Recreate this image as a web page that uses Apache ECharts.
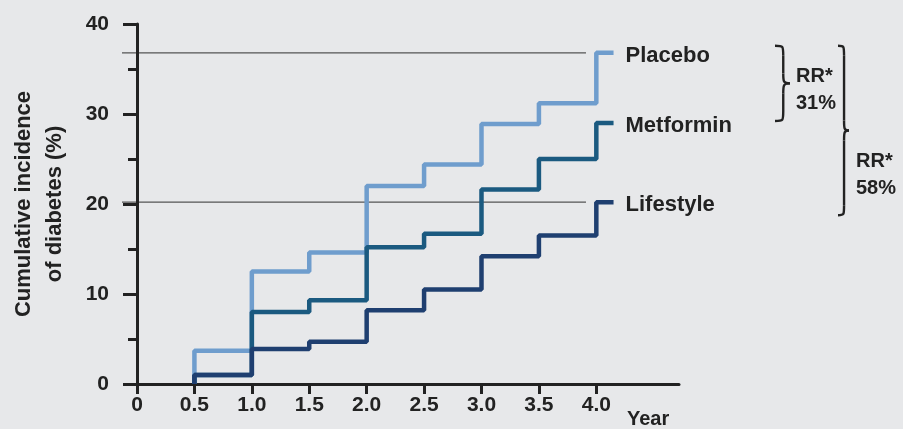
<!DOCTYPE html>
<html>
<head>
<meta charset="utf-8">
<script src="https://cdn.jsdelivr.net/npm/echarts@6/dist/echarts.min.js"></script>
<style>
  html, body { margin: 0; padding: 0; background: #e7e8ea; }
  #chart { width: 903px; height: 429px; }
</style>
</head>
<body>
<div id="chart"></div>
<script>
const years = [0.5, 0.5, 1.0, 1.5, 2.0, 2.5, 3.0, 3.5, 4.0, 4.15]
const placebo = [0, 3.7, 12.5, 14.6, 22.0, 24.4, 28.9, 31.2, 36.8, 36.8]
const metformin = [0, 1.0, 8.0, 9.3, 15.2, 16.7, 21.6, 25.0, 29.0, 29.0]
const lifestyle = [0, 1.0, 3.9, 4.7, 8.2, 10.5, 14.2, 16.5, 20.2, 20.2]
const xTicks = [0, 0.5, 1.0, 1.5, 2.0, 2.5, 3.0, 3.5, 4.0]
const rrLabels = ['RR*\n31%', 'RR*\n58%']

const textColor = '#222'
const font = 'Liberation Sans, Arial, sans-serif'

const chart = echarts.init(document.getElementById('chart'))

function stepSeries(name, values, color) {
  return {
    name: name,
    type: 'line',
    step: 'end',
    symbol: 'none',
    clip: false,
    data: years.map((x, i) => [x, values[i]]),
    lineStyle: { color: color, width: 4.5 },
    itemStyle: { color: color },
    endLabel: {
      show: true,
      formatter: '{a}',
      distance: 12,
      offset: [0, 3],
      color: textColor,
      fontFamily: font,
      fontWeight: 'bold',
      fontSize: 22,
    },
  }
}

chart.setOption({
  backgroundColor: '#e7e8ea',
  animation: false,
  textStyle: { fontFamily: font },
  grid: { left: 137, right: 224, top: 24, bottom: 41 },
  xAxis: {
    type: 'value',
    min: 0,
    max: 4.72,
    name: 'Year',
    nameLocation: 'end',
    nameGap: -52,
    nameTextStyle: {
      color: textColor, fontWeight: 'bold', fontSize: 20,
      align: 'left', verticalAlign: 'top', padding: [25, 0, 0, 0],
    },
    axisLine: { lineStyle: { color: textColor, width: 3 } },
    axisTick: { customValues: xTicks, length: 10, lineStyle: { color: textColor, width: 3 } },
    axisLabel: {
      customValues: xTicks,
      formatter: v => (v === 0 ? '0' : v.toFixed(1)),
      color: textColor, fontWeight: 'bold', fontSize: 21, margin: 11,
    },
    splitLine: { show: false },
  },
  yAxis: {
    type: 'value',
    min: 0,
    max: 40,
    interval: 10,
    name: 'Cumulative incidence\nof diabetes (%)',
    nameLocation: 'middle',
    nameRotate: 90,
    nameGap: 67,
    nameTextStyle: { color: textColor, fontWeight: 'bold', fontSize: 22, lineHeight: 31 },
    axisLine: { show: true, lineStyle: { color: textColor, width: 3 } },
    axisTick: { show: true, length: 14, lineStyle: { color: textColor, width: 3 } },
    minorTick: { show: true, splitNumber: 2, length: 9, lineStyle: { color: textColor, width: 3 } },
    axisLabel: { color: textColor, fontWeight: 'bold', fontSize: 21, margin: 28 },
    splitLine: { show: false },
  },
  series: [
    stepSeries('Placebo', placebo, '#6f9dcd'),
    stepSeries('Metformin', metformin, '#1b5a80'),
    stepSeries('Lifestyle', lifestyle, '#1f3f70'),
  ],
})

// pixel positions taken from the data through the axes
const yPla = chart.convertToPixel({ yAxisIndex: 0 }, placebo[placebo.length - 1])
const yMet = chart.convertToPixel({ yAxisIndex: 0 }, metformin[metformin.length - 1])
const yLif = chart.convertToPixel({ yAxisIndex: 0 }, lifestyle[lifestyle.length - 1])
const xRefStart = chart.convertToPixel({ xAxisIndex: 0 }, 0) - 15
const xRefEnd = chart.convertToPixel({ xAxisIndex: 0 }, 3.91)

const braceStyle = { stroke: textColor, lineWidth: 2.4, fill: 'none' }

// a "}" made of four curves and two straight runs
function brace(x, yTop, yBot, depth) {
  const mid = (yTop + yBot) / 2
  const c = x + depth * 0.55
  const t = x + depth
  const h = 10
  return [
    { type: 'bezierCurve', shape: { x1: x, y1: yTop, cpx1: c, cpy1: yTop, cpx2: c, cpy2: yTop, x2: c, y2: yTop + h }, style: braceStyle },
    { type: 'line', shape: { x1: c, y1: yTop + h, x2: c, y2: mid - h }, style: braceStyle },
    { type: 'bezierCurve', shape: { x1: c, y1: mid - h, cpx1: c, cpy1: mid - 2, cpx2: c, cpy2: mid, x2: t, y2: mid }, style: braceStyle },
    { type: 'bezierCurve', shape: { x1: t, y1: mid, cpx1: c, cpy1: mid, cpx2: c, cpy2: mid + 2, x2: c, y2: mid + h }, style: braceStyle },
    { type: 'line', shape: { x1: c, y1: mid + h, x2: c, y2: yBot - h }, style: braceStyle },
    { type: 'bezierCurve', shape: { x1: c, y1: yBot - h, cpx1: c, cpy1: yBot, cpx2: c, cpy2: yBot, x2: x, y2: yBot }, style: braceStyle },
  ]
}

const rrText = {
  fill: textColor, font: 'bold 20px ' + font, lineHeight: 27,
}

const refStyle = { stroke: '#555', lineWidth: 1.2 }

chart.setOption({
  graphic: [
    { type: 'line', silent: true, shape: { x1: xRefStart, y1: yPla, x2: xRefEnd, y2: yPla }, style: refStyle },
    { type: 'line', silent: true, shape: { x1: xRefStart, y1: yLif, x2: xRefEnd, y2: yLif }, style: refStyle },
    ...brace(775, yPla - 7, yMet - 2, 15),
    { type: 'text', x: 796, y: yPla + 10, style: Object.assign({ text: rrLabels[0] }, rrText) },
    ...brace(838, yPla - 7, yLif + 13, 11),
    { type: 'text', x: 856, y: (yPla + yLif) / 2 + 20, style: Object.assign({ text: rrLabels[1] }, rrText) },
  ],
})
</script>
</body>
</html>
